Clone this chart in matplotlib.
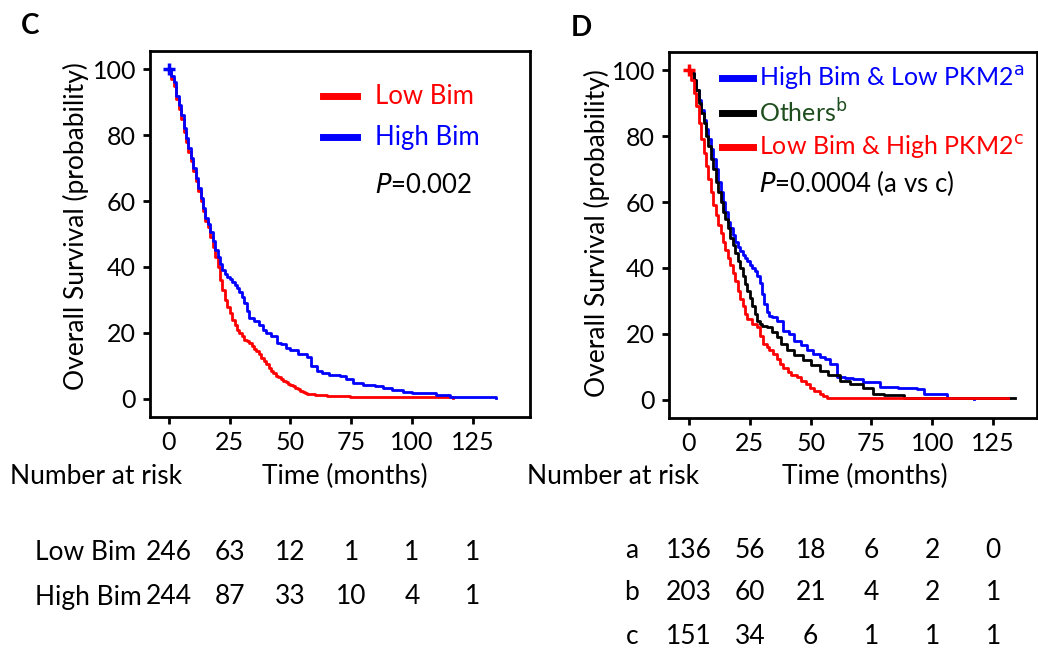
import matplotlib
matplotlib.use("Agg")
import matplotlib.pyplot as plt
import matplotlib.transforms as mtrans

plt.rcParams['font.family'] = ['Lato', 'DejaVu Sans']

W, H = 1038, 651

# ---- panel C data ----
c_low_t = [0, 1, 2, 3, 4, 5, 6, 7, 8, 9, 10, 11, 12, 13, 14, 15, 16, 17, 18, 19, 20, 21, 22, 23, 24, 25,
           26, 27, 28, 29, 30, 31, 32, 33, 34, 35, 36, 37, 38, 39, 40, 41, 42, 43, 44, 45, 46, 47, 48, 49,
           50, 51, 52, 53, 54, 55, 56, 57, 60, 65, 74.5, 117]
c_low_s = [100, 97, 95, 91, 88, 85, 81, 78, 75, 72, 69, 66, 63, 60, 57, 54, 52, 49, 46, 43, 40, 36, 33, 30, 28, 26,
           24, 22.5, 21, 20, 19, 18, 17.5, 17, 16, 15, 14.5, 13.5, 12.5, 11.5, 10.5, 9.5, 8.5, 7.8, 7, 6.5, 6, 5.5, 5, 4.6,
           4.2, 3.8, 3.4, 3, 2.5, 2, 1.7, 1.5, 1.2, 1.0, 0.7, 0.4]
c_high_t = [0, 1, 2, 3, 4, 5, 6, 7, 8, 9, 10, 11, 12, 13, 14, 15, 16, 17, 18, 19, 20, 21, 22, 23, 24, 25,
            26, 27, 28, 29, 30, 31, 32, 33, 35, 37, 38.8, 40, 42, 44.3, 46, 48, 50, 53, 56.7, 58.5, 60.8, 63,
            66, 70.4, 73, 75.8, 80, 85, 88.2, 92, 96.4, 100, 106, 110, 115.6, 134.8]
c_high_s = [100, 98, 96, 92, 89, 86, 82, 79, 76, 73, 70, 67, 64, 61, 58, 55, 53, 50.5, 48, 45, 43, 41, 39, 38, 37, 36.5,
            35.5, 34.5, 33.5, 32.5, 31, 29, 26.5, 24.5, 23.5, 22.5, 21, 20, 19, 17, 16.5, 15.5, 14.8, 13.5, 12.8, 10, 8.3, 7.8,
            7.2, 6.8, 6, 4.7, 4.2, 3.8, 3.2, 2.7, 2.2, 1.9, 1.7, 1.2, 0.7, 0.4]

# ---- panel D data ----
d_a_t = [0, 1, 2, 3, 4, 5, 6, 7, 8, 9, 10, 11, 12, 13, 14, 15, 16, 17, 18, 19, 20, 21, 22, 23, 24, 25,
         26, 27, 28, 29, 30, 31, 32, 33, 34, 36, 38.8, 41, 43, 46, 48.4, 51, 54, 56, 58, 60.8, 64, 67.5,
         71.7, 78.6, 86, 93.7, 96.4, 106, 117]
d_a_s = [100, 99, 97, 94, 91, 88, 85, 82, 79, 76, 73, 70, 66, 63, 60, 57, 54, 52, 50, 48, 46.5, 45, 44, 43, 42, 41,
         40, 39, 37.5, 35.5, 32, 29, 26.5, 25.5, 25, 24, 21, 20, 18, 16.5, 15, 14, 13, 12.3, 11, 6.8, 6.5, 6.3,
         5.3, 3.8, 3.6, 3.2, 1.7, 0.7, 0.4]
d_b_t = [0, 1, 2, 3, 4, 5, 6, 7, 8, 9, 10, 11, 12, 13, 14, 15, 16, 17, 18, 19, 20, 21, 22, 23, 24, 25,
         26, 27, 28, 29, 30, 32, 34, 36, 38, 40.2, 43, 47, 50, 54, 57, 62, 66, 71.7, 75.8, 80, 88.2, 134]
d_b_s = [100, 99, 97, 94, 90, 87, 84, 80, 77, 73, 70, 66, 63, 60, 57, 55, 52, 49, 47, 44.5, 42, 40, 37.5, 35, 33, 31,
         28.5, 26, 24, 23, 22.5, 22, 20.5, 19, 17, 15, 13.5, 12, 10.5, 8.8, 7.5, 5.8, 4.8, 3.7, 1.8, 1.5, 0.7, 0.5]
d_c_t = [0, 1, 2, 3, 4, 5, 6, 7, 8, 9, 10, 11, 12, 13, 14, 15, 16, 17, 18, 19, 20, 21, 22, 23, 24, 26,
         27.9, 29, 30.6, 32, 33, 34.7, 36, 37.5, 38.8, 40.5, 42, 44.3, 46, 48, 49.8, 51.5, 53.9, 55, 56.7, 131]
d_c_s = [100, 97, 93, 89, 84, 79, 75, 71, 67, 63, 59, 56, 53, 50.5, 48, 45.5, 43, 41, 38.5, 36, 33, 30.5, 28.5, 26, 24.5, 23,
         22, 19.5, 17, 16, 15, 13.9, 12.5, 11, 9.8, 8.5, 7.6, 6.8, 5.8, 4.8, 3.7, 2.7, 1.7, 1.2, 0.7, 0.5]

xticks = [0, 25, 50, 75, 100, 125]
yticks = [0, 20, 40, 60, 80, 100]

c_risk_labels = ['Low Bim', 'High Bim']
c_risk = [[246, 63, 12, 1, 1, 1],
          [244, 87, 33, 10, 4, 1]]
d_risk_labels = ['a', 'b', 'c']
d_risk = [[136, 56, 18, 6, 2, 0],
          [203, 60, 21, 4, 2, 1],
          [151, 34, 6, 1, 1, 1]]

FS = 19
fig = plt.figure(figsize=(W / 100, H / 100), dpi=100)


def px_axes(l, t, r, b):
    return fig.add_axes([l / W, 1 - b / H, (r - l) / W, (b - t) / H])


def fy(py):
    return 1 - py / H


def style(ax, xlim, ylim):
    ax.set_xlim(*xlim)
    ax.set_ylim(*ylim)
    ax.set_xticks(xticks)
    ax.set_yticks(yticks)
    for s in ax.spines.values():
        s.set_linewidth(2)
    ax.tick_params(direction='out', length=5, width=2, labelsize=18, pad=5)


# ---- panel C ----
axc = px_axes(150, 51, 530, 417)
style(axc, (-7.8, 148.6), (-5.5, 105.5))
axc.step(c_low_t, c_low_s, where='post', color='#ff0000', lw=2)
axc.step(c_high_t, c_high_s, where='post', color='#0000ff', lw=2)
axc.plot([0], [100], marker='+', color='#0000ff', ms=9, mew=2.5)
fig.text(21 / W, fy(26), 'C', fontsize=20, fontweight='bold', va='center')
fig.text(76 / W, fy(226), 'Overall Survival (probability)', fontsize=FS, rotation=90,
         ha='center', va='center')

for i, (lab, col) in enumerate([('Low Bim', '#ff0000'), ('High Bim', '#0000ff')]):
    y = 96 + 41 * i
    fig.add_artist(plt.Line2D([323 / W, 357 / W], [fy(y), fy(y)], color=col, lw=5))
    fig.text(375 / W, fy(y), lab, color=col, fontsize=18.5, va='center')
fig.text(375 / W, fy(185), r'$\it{P}$=0.002', fontsize=18.5, va='center')

fig.text(10 / W, fy(476), 'Number at risk', fontsize=FS, va='center')
fig.text(345 / W, fy(476), 'Time (months)', fontsize=FS, va='center', ha='center')

trc = mtrans.blended_transform_factory(axc.transData, fig.transFigure)
for r, (lab, row) in enumerate(zip(c_risk_labels, c_risk)):
    y = fy(553 + 44 * r)
    fig.text(35 / W, y, lab, fontsize=FS, va='center')
    for x, v in zip(xticks, row):
        fig.text(x, y, str(v), fontsize=FS, va='center', ha='center', transform=trc)

# ---- panel D ----
axd = px_axes(669, 52, 1037, 418)
style(axd, (-8.2, 143), (-5.5, 105.5))
axd.step(d_a_t, d_a_s, where='post', color='#0000ff', lw=2)
axd.step(d_b_t, d_b_s, where='post', color='#000000', lw=2)
axd.step(d_c_t, d_c_s, where='post', color='#ff0000', lw=2)
axd.plot([0], [100], marker='+', color='#ff0000', ms=9, mew=2.5)
fig.text(571 / W, fy(28), 'D', fontsize=20, fontweight='bold', va='center')
fig.text(597 / W, fy(233), 'Overall Survival (probability)', fontsize=FS, rotation=90,
         ha='center', va='center')

d_leg = [('High Bim & Low PKM2', 'a', '#0000ff', '#0000ff'),
         ('Others', 'b', '#000000', '#1e4d1e'),
         ('Low Bim & High PKM2', 'c', '#ff0000', '#ff0000')]
for i, (lab, sup, lc, tc) in enumerate(d_leg):
    y = 78 + 34.5 * i
    fig.add_artist(plt.Line2D([722 / W, 753 / W], [fy(y), fy(y)], color=lc, lw=5))
    fig.text(759 / W, fy(y), lab + r'$^{\mathrm{' + sup + '}}$', color=tc, fontsize=18, va='center')
fig.text(759 / W, fy(183), r'$\it{P}$=0.0004 (a vs c)', fontsize=18.5, va='center')

fig.text(527 / W, fy(476), 'Number at risk', fontsize=FS, va='center')
fig.text(865 / W, fy(476), 'Time (months)', fontsize=FS, va='center', ha='center')

trd = mtrans.blended_transform_factory(axd.transData, fig.transFigure)
for r, (lab, row) in enumerate(zip(d_risk_labels, d_risk)):
    y = fy(550 + 43 * r)
    fig.text(632 / W, y, lab, fontsize=FS, va='center', ha='center')
    for x, v in zip(xticks, row):
        fig.text(x, y, str(v), fontsize=FS, va='center', ha='center', transform=trd)

fig.savefig('out.png', dpi=100)
